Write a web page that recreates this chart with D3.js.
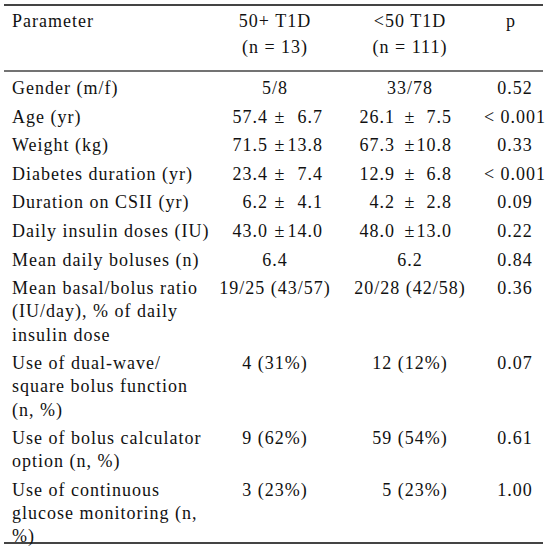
<!DOCTYPE html>
<html>
<head>
<meta charset="utf-8">
<script src="https://cdn.jsdelivr.net/npm/d3@7"></script>
<style>
  html, body { margin: 0; padding: 0; background: #fff; }
  svg { display: block; }
  text { font-family: "Liberation Serif", "Times New Roman", serif; font-size: 18px; fill: #111; letter-spacing: 1px; white-space: pre; }
</style>
</head>
<body>
<svg id="chart" width="550" height="546"></svg>
<script>
// ---- data ----
const headerParam = ["Parameter"];
const headerOld = ["50+ T1D", "(n = 13)"];
const headerYoung = ["<50 T1D", "(n = 111)"];
const headerP = ["p"];

const parameters = [
  ["Gender (m/f)"],
  ["Age (yr)"],
  ["Weight (kg)"],
  ["Diabetes duration (yr)"],
  ["Duration on CSII (yr)"],
  ["Daily insulin doses (IU)"],
  ["Mean daily boluses (n)"],
  ["Mean basal/bolus ratio", "(IU/day), % of daily", "insulin dose"],
  ["Use of dual-wave/", "square bolus function", "(n, %)"],
  ["Use of bolus calculator", "option (n, %)"],
  ["Use of continuous", "glucose monitoring (n,", "%)"]
];
const olderT1D = ["5/8", "57.4 ± 6.7", "71.5 ± 13.8", "23.4 ± 7.4", "6.2 ± 4.1", "43.0 ± 14.0",
  "6.4", "19/25 (43/57)", "4 (31%)", "9 (62%)", "3 (23%)"];
const youngerT1D = ["33/78", "26.1 ± 7.5", "67.3 ± 10.8", "12.9 ± 6.8", "4.2 ± 2.8", "48.0 ± 13.0",
  "6.2", "20/28 (42/58)", "12 (12%)", "59 (54%)", "\u20075 (23%)"];
const pValues = ["0.52", "< 0.001", "0.33", "< 0.001", "0.09", "0.22", "0.84", "0.36", "0.07", "0.61", "1.00"];

// ---- layout ----
const svg = d3.select("#chart");
const ruleX0 = 4, ruleX1 = 543;
const paramX = 12;
const colX = d3.scaleOrdinal().domain(["old", "young", "p"]).range([275, 410, 515]);
const pmLayout = { old: { meanR: 268, pm: 280, sdR: 323 }, young: { meanR: 395, pm: 410, sdR: 452 } };

const firstBaseline = 94, rowStep = 28.6, lineStep = 23.2;
const rowY = [];
let y = firstBaseline;
parameters.forEach((p) => {
  rowY.push(y);
  y += (p.length - 1) * lineStep + rowStep;
});

// rules
const rules = [
  { y: 5, w: 2 },
  { y: 71, w: 1.5 },
  { y: 543, w: 2.2 }
];
svg.selectAll("line.rule").data(rules).join("line")
  .attr("class", "rule")
  .attr("x1", ruleX0).attr("x2", ruleX1)
  .attr("y1", d => d.y).attr("y2", d => d.y)
  .attr("stroke", "#444").attr("stroke-width", d => d.w);

// header
const headerBase = 27, headerStep = 26;
function multiText(g, lines, x, y0, step, anchor) {
  g.selectAll(null).data(lines).join("text")
    .attr("x", x).attr("y", (d, i) => y0 + i * step)
    .attr("text-anchor", anchor)
    .text(d => d);
}
const hg = svg.append("g");
multiText(hg, headerParam, paramX, headerBase, headerStep, "start");
multiText(hg, headerOld, colX("old"), headerBase, headerStep, "middle");
multiText(hg, headerYoung, colX("young"), headerBase, headerStep, "middle");
multiText(hg, headerP, colX("p") - 4, headerBase, headerStep, "middle");

// body
const body = svg.append("g");
const rows = body.selectAll("g.row").data(parameters.map((p, i) => ({
  param: p, old: olderT1D[i], young: youngerT1D[i], p: pValues[i], y: rowY[i]
}))).join("g").attr("class", "row");

rows.each(function(d) {
  const g = d3.select(this);
  multiText(g, d.param, paramX, d.y, lineStep, "start");
  ["old", "young"].forEach(key => {
    const v = d[key];
    if (v.includes("±")) {
      const [m, s] = v.split("±").map(t => t.trim());
      const L = pmLayout[key];
      g.append("text").attr("x", L.meanR).attr("y", d.y).attr("text-anchor", "end").text(m);
      g.append("text").attr("x", L.pm).attr("y", d.y).attr("text-anchor", "middle").text("±");
      g.append("text").attr("x", L.sdR).attr("y", d.y).attr("text-anchor", "end").text(s);
    } else {
      g.append("text").attr("x", colX(key)).attr("y", d.y).attr("text-anchor", "middle").text(v);
    }
  });
  g.append("text").attr("x", colX("p")).attr("y", d.y).attr("text-anchor", "middle").text(d.p);
});
</script>
</body>
</html>
